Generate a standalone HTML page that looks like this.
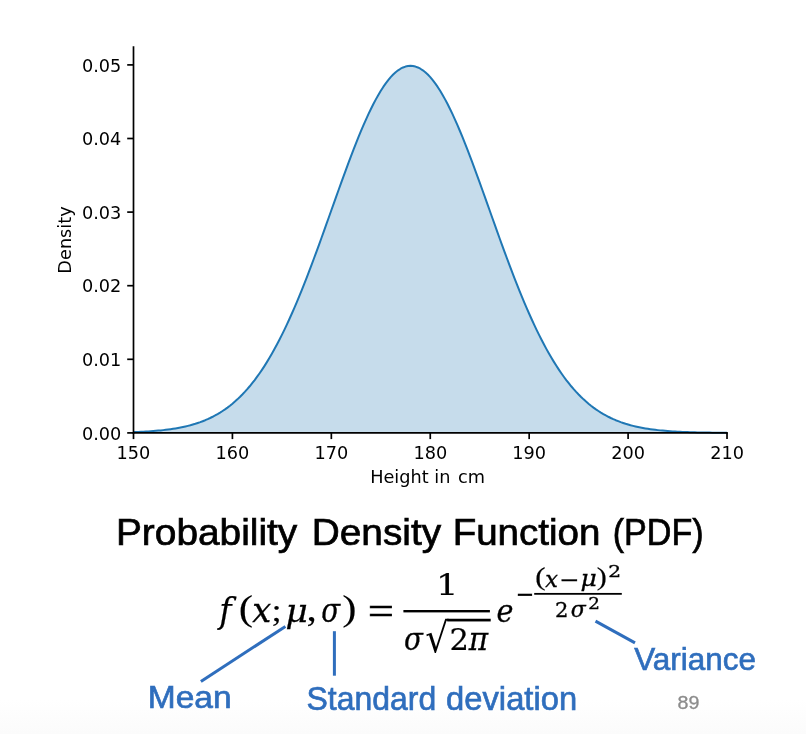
<!DOCTYPE html>
<html><head><meta charset="utf-8"><title>Probability Density Function (PDF)</title>
<style>
html,body{margin:0;padding:0;}
body{width:806px;height:734px;overflow:hidden;background:#fff;position:relative;}
#bg{position:absolute;left:0;top:0;width:806px;height:734px;background:linear-gradient(to bottom,#ffffff 0px,#ffffff 700px,#fbfbfb 734px);}
svg{position:absolute;left:0;top:0;}

.tk{font-family:"DejaVu Sans","Liberation Sans",sans-serif;font-size:17.7px;fill:#000;}
.ttl{font-family:"Liberation Sans",sans-serif;fill:#000;stroke:#000;}
.lbl{font-family:"Liberation Sans",sans-serif;fill:#2f6ebd;stroke:#2f6ebd;}
.pg{font-family:"Liberation Sans",sans-serif;fill:#8c8c8c;stroke:#8c8c8c;}
.m{font-family:"Liberation Serif","DejaVu Serif",serif;font-style:italic;fill:#000;stroke:#000;}
.r{font-family:"Liberation Serif","DejaVu Serif",serif;font-style:normal;fill:#000;stroke:#000;}
.dm{font-family:"DejaVu Serif","Liberation Serif",serif;font-style:italic;fill:#000;stroke:#000;}
.dr{font-family:"DejaVu Serif","Liberation Serif",serif;font-style:normal;fill:#000;stroke:#000;}

</style></head>
<body>
<div id="bg"></div>
<svg width="806" height="734" viewBox="0 0 806 734">
<path d="M133.50,432.10 L135.97,432.00 L138.45,431.90 L140.92,431.79 L143.39,431.67 L145.87,431.53 L148.34,431.38 L150.81,431.21 L153.28,431.03 L155.76,430.83 L158.23,430.62 L160.70,430.38 L163.18,430.12 L165.65,429.84 L168.12,429.53 L170.59,429.19 L173.07,428.82 L175.54,428.42 L178.01,427.99 L180.49,427.52 L182.96,427.01 L185.43,426.46 L187.91,425.87 L190.38,425.23 L192.85,424.53 L195.32,423.79 L197.80,422.98 L200.27,422.12 L202.74,421.19 L205.22,420.20 L207.69,419.13 L210.16,417.99 L212.64,416.77 L215.11,415.47 L217.58,414.08 L220.06,412.60 L222.53,411.03 L225.00,409.36 L227.47,407.58 L229.95,405.70 L232.42,403.70 L234.89,401.59 L237.37,399.36 L239.84,397.00 L242.31,394.52 L244.78,391.90 L247.26,389.15 L249.73,386.26 L252.20,383.23 L254.68,380.05 L257.15,376.72 L259.62,373.25 L262.10,369.62 L264.57,365.83 L267.04,361.89 L269.51,357.79 L271.99,353.52 L274.46,349.10 L276.93,344.52 L279.41,339.78 L281.88,334.88 L284.35,329.83 L286.83,324.62 L289.30,319.26 L291.77,313.74 L294.25,308.09 L296.72,302.29 L299.19,296.35 L301.66,290.29 L304.14,284.10 L306.61,277.79 L309.08,271.38 L311.56,264.86 L314.03,258.25 L316.50,251.56 L318.98,244.80 L321.45,237.97 L323.92,231.10 L326.39,224.18 L328.87,217.24 L331.34,210.29 L333.81,203.33 L336.29,196.39 L338.76,189.48 L341.23,182.61 L343.70,175.80 L346.18,169.06 L348.65,162.40 L351.12,155.85 L353.60,149.42 L356.07,143.12 L358.54,136.98 L361.02,130.99 L363.49,125.19 L365.96,119.58 L368.43,114.18 L370.91,109.00 L373.38,104.06 L375.85,99.37 L378.33,94.94 L380.80,90.79 L383.27,86.93 L385.75,83.36 L388.22,80.11 L390.69,77.17 L393.16,74.55 L395.64,72.27 L398.11,70.33 L400.58,68.73 L403.06,67.48 L405.53,66.59 L408.00,66.05 L410.48,65.87 L412.95,66.05 L415.42,66.59 L417.89,67.48 L420.37,68.73 L422.84,70.33 L425.31,72.27 L427.79,74.55 L430.26,77.17 L432.73,80.11 L435.21,83.36 L437.68,86.93 L440.15,90.79 L442.62,94.94 L445.10,99.37 L447.57,104.06 L450.04,109.00 L452.52,114.18 L454.99,119.58 L457.46,125.19 L459.94,130.99 L462.41,136.98 L464.88,143.12 L467.35,149.42 L469.83,155.85 L472.30,162.40 L474.77,169.06 L477.25,175.80 L479.72,182.61 L482.19,189.48 L484.67,196.39 L487.14,203.33 L489.61,210.29 L492.08,217.24 L494.56,224.18 L497.03,231.10 L499.50,237.97 L501.98,244.80 L504.45,251.56 L506.92,258.25 L509.40,264.86 L511.87,271.38 L514.34,277.79 L516.82,284.10 L519.29,290.29 L521.76,296.35 L524.23,302.29 L526.71,308.09 L529.18,313.74 L531.65,319.26 L534.13,324.62 L536.60,329.83 L539.07,334.88 L541.54,339.78 L544.02,344.52 L546.49,349.10 L548.96,353.52 L551.44,357.79 L553.91,361.89 L556.38,365.83 L558.86,369.62 L561.33,373.25 L563.80,376.72 L566.27,380.05 L568.75,383.23 L571.22,386.26 L573.69,389.15 L576.17,391.90 L578.64,394.52 L581.11,397.00 L583.59,399.36 L586.06,401.59 L588.53,403.70 L591.00,405.70 L593.48,407.58 L595.95,409.36 L598.42,411.03 L600.90,412.60 L603.37,414.08 L605.84,415.47 L608.32,416.77 L610.79,417.99 L613.26,419.13 L615.73,420.20 L618.21,421.19 L620.68,422.12 L623.15,422.98 L625.63,423.79 L628.10,424.53 L630.57,425.23 L633.05,425.87 L635.52,426.46 L637.99,427.01 L640.46,427.52 L642.94,427.99 L645.41,428.42 L647.88,428.82 L650.36,429.19 L652.83,429.53 L655.30,429.84 L657.78,430.12 L660.25,430.38 L662.72,430.62 L665.19,430.83 L667.67,431.03 L670.14,431.21 L672.61,431.38 L675.09,431.53 L677.56,431.67 L680.03,431.79 L682.51,431.90 L684.98,432.00 L687.45,432.10 L689.92,432.18 L692.40,432.26 L694.87,432.32 L697.34,432.39 L699.82,432.44 L702.29,432.49 L704.76,432.54 L707.24,432.58 L709.71,432.61 L712.18,432.64 L714.65,432.67 L717.13,432.70 L719.60,432.72 L722.07,432.74 L724.55,432.76 L727.02,432.78 L727.02,432.90 L133.50,432.90 Z" fill="#c6dceb" stroke="none"/>
<path d="M133.50,432.10 L135.97,432.00 L138.45,431.90 L140.92,431.79 L143.39,431.67 L145.87,431.53 L148.34,431.38 L150.81,431.21 L153.28,431.03 L155.76,430.83 L158.23,430.62 L160.70,430.38 L163.18,430.12 L165.65,429.84 L168.12,429.53 L170.59,429.19 L173.07,428.82 L175.54,428.42 L178.01,427.99 L180.49,427.52 L182.96,427.01 L185.43,426.46 L187.91,425.87 L190.38,425.23 L192.85,424.53 L195.32,423.79 L197.80,422.98 L200.27,422.12 L202.74,421.19 L205.22,420.20 L207.69,419.13 L210.16,417.99 L212.64,416.77 L215.11,415.47 L217.58,414.08 L220.06,412.60 L222.53,411.03 L225.00,409.36 L227.47,407.58 L229.95,405.70 L232.42,403.70 L234.89,401.59 L237.37,399.36 L239.84,397.00 L242.31,394.52 L244.78,391.90 L247.26,389.15 L249.73,386.26 L252.20,383.23 L254.68,380.05 L257.15,376.72 L259.62,373.25 L262.10,369.62 L264.57,365.83 L267.04,361.89 L269.51,357.79 L271.99,353.52 L274.46,349.10 L276.93,344.52 L279.41,339.78 L281.88,334.88 L284.35,329.83 L286.83,324.62 L289.30,319.26 L291.77,313.74 L294.25,308.09 L296.72,302.29 L299.19,296.35 L301.66,290.29 L304.14,284.10 L306.61,277.79 L309.08,271.38 L311.56,264.86 L314.03,258.25 L316.50,251.56 L318.98,244.80 L321.45,237.97 L323.92,231.10 L326.39,224.18 L328.87,217.24 L331.34,210.29 L333.81,203.33 L336.29,196.39 L338.76,189.48 L341.23,182.61 L343.70,175.80 L346.18,169.06 L348.65,162.40 L351.12,155.85 L353.60,149.42 L356.07,143.12 L358.54,136.98 L361.02,130.99 L363.49,125.19 L365.96,119.58 L368.43,114.18 L370.91,109.00 L373.38,104.06 L375.85,99.37 L378.33,94.94 L380.80,90.79 L383.27,86.93 L385.75,83.36 L388.22,80.11 L390.69,77.17 L393.16,74.55 L395.64,72.27 L398.11,70.33 L400.58,68.73 L403.06,67.48 L405.53,66.59 L408.00,66.05 L410.48,65.87 L412.95,66.05 L415.42,66.59 L417.89,67.48 L420.37,68.73 L422.84,70.33 L425.31,72.27 L427.79,74.55 L430.26,77.17 L432.73,80.11 L435.21,83.36 L437.68,86.93 L440.15,90.79 L442.62,94.94 L445.10,99.37 L447.57,104.06 L450.04,109.00 L452.52,114.18 L454.99,119.58 L457.46,125.19 L459.94,130.99 L462.41,136.98 L464.88,143.12 L467.35,149.42 L469.83,155.85 L472.30,162.40 L474.77,169.06 L477.25,175.80 L479.72,182.61 L482.19,189.48 L484.67,196.39 L487.14,203.33 L489.61,210.29 L492.08,217.24 L494.56,224.18 L497.03,231.10 L499.50,237.97 L501.98,244.80 L504.45,251.56 L506.92,258.25 L509.40,264.86 L511.87,271.38 L514.34,277.79 L516.82,284.10 L519.29,290.29 L521.76,296.35 L524.23,302.29 L526.71,308.09 L529.18,313.74 L531.65,319.26 L534.13,324.62 L536.60,329.83 L539.07,334.88 L541.54,339.78 L544.02,344.52 L546.49,349.10 L548.96,353.52 L551.44,357.79 L553.91,361.89 L556.38,365.83 L558.86,369.62 L561.33,373.25 L563.80,376.72 L566.27,380.05 L568.75,383.23 L571.22,386.26 L573.69,389.15 L576.17,391.90 L578.64,394.52 L581.11,397.00 L583.59,399.36 L586.06,401.59 L588.53,403.70 L591.00,405.70 L593.48,407.58 L595.95,409.36 L598.42,411.03 L600.90,412.60 L603.37,414.08 L605.84,415.47 L608.32,416.77 L610.79,417.99 L613.26,419.13 L615.73,420.20 L618.21,421.19 L620.68,422.12 L623.15,422.98 L625.63,423.79 L628.10,424.53 L630.57,425.23 L633.05,425.87 L635.52,426.46 L637.99,427.01 L640.46,427.52 L642.94,427.99 L645.41,428.42 L647.88,428.82 L650.36,429.19 L652.83,429.53 L655.30,429.84 L657.78,430.12 L660.25,430.38 L662.72,430.62 L665.19,430.83 L667.67,431.03 L670.14,431.21 L672.61,431.38 L675.09,431.53 L677.56,431.67 L680.03,431.79 L682.51,431.90 L684.98,432.00 L687.45,432.10 L689.92,432.18 L692.40,432.26 L694.87,432.32 L697.34,432.39 L699.82,432.44 L702.29,432.49 L704.76,432.54 L707.24,432.58 L709.71,432.61 L712.18,432.64 L714.65,432.67 L717.13,432.70 L719.60,432.72 L722.07,432.74 L724.55,432.76 L727.02,432.78" fill="none" stroke="#1f77b4" stroke-width="2" stroke-linejoin="round"/>
<line x1="133.5" y1="46.3" x2="133.5" y2="433.75" stroke="#000" stroke-width="1.7"/>
<line x1="132.65" y1="432.9" x2="727.87" y2="432.9" stroke="#000" stroke-width="1.7"/>
<line x1="127.2" y1="432.90" x2="133.5" y2="432.90" stroke="#000" stroke-width="1.7"/>
<text x="121.3" y="439.50" text-anchor="end" class="tk">0.00</text>
<line x1="127.2" y1="359.30" x2="133.5" y2="359.30" stroke="#000" stroke-width="1.7"/>
<text x="121.3" y="365.90" text-anchor="end" class="tk">0.01</text>
<line x1="127.2" y1="285.70" x2="133.5" y2="285.70" stroke="#000" stroke-width="1.7"/>
<text x="121.3" y="292.30" text-anchor="end" class="tk">0.02</text>
<line x1="127.2" y1="212.10" x2="133.5" y2="212.10" stroke="#000" stroke-width="1.7"/>
<text x="121.3" y="218.70" text-anchor="end" class="tk">0.03</text>
<line x1="127.2" y1="138.50" x2="133.5" y2="138.50" stroke="#000" stroke-width="1.7"/>
<text x="121.3" y="145.10" text-anchor="end" class="tk">0.04</text>
<line x1="127.2" y1="64.90" x2="133.5" y2="64.90" stroke="#000" stroke-width="1.7"/>
<text x="121.3" y="71.50" text-anchor="end" class="tk">0.05</text>
<line x1="133.50" y1="432.9" x2="133.50" y2="439.09999999999997" stroke="#000" stroke-width="1.7"/>
<text x="133.50" y="459" text-anchor="middle" class="tk">150</text>
<line x1="232.42" y1="432.9" x2="232.42" y2="439.09999999999997" stroke="#000" stroke-width="1.7"/>
<text x="232.42" y="459" text-anchor="middle" class="tk">160</text>
<line x1="331.34" y1="432.9" x2="331.34" y2="439.09999999999997" stroke="#000" stroke-width="1.7"/>
<text x="331.34" y="459" text-anchor="middle" class="tk">170</text>
<line x1="430.26" y1="432.9" x2="430.26" y2="439.09999999999997" stroke="#000" stroke-width="1.7"/>
<text x="430.26" y="459" text-anchor="middle" class="tk">180</text>
<line x1="529.18" y1="432.9" x2="529.18" y2="439.09999999999997" stroke="#000" stroke-width="1.7"/>
<text x="529.18" y="459" text-anchor="middle" class="tk">190</text>
<line x1="628.10" y1="432.9" x2="628.10" y2="439.09999999999997" stroke="#000" stroke-width="1.7"/>
<text x="628.10" y="459" text-anchor="middle" class="tk">200</text>
<line x1="727.02" y1="432.9" x2="727.02" y2="439.09999999999997" stroke="#000" stroke-width="1.7"/>
<text x="727.02" y="459" text-anchor="middle" class="tk">210</text>
<text id="xl1" x="370.2" y="482.7" class="tk">Height in</text>
<text id="xl2" x="458.1" y="482.7" class="tk">cm</text>
<text id="yl" transform="translate(71,240) rotate(-90)" text-anchor="middle" class="tk">Density</text>
<text id="t1" transform="translate(115.95,544.5) scale(1.05,1)" class="ttl" font-size="37" stroke-width="0.7">Probability</text>
<text id="t2" transform="translate(311.75,544.5) scale(1.049,1)" class="ttl" font-size="37" stroke-width="0.7">Density</text>
<text id="t3" transform="translate(452.65,544.5) scale(1.042,1)" class="ttl" font-size="37" stroke-width="0.7">Function</text>
<text id="t4" transform="translate(612.65,544.5) scale(0.922,1)" class="ttl" font-size="37" stroke-width="0.7">(PDF)</text>
<text id="f_f" transform="translate(219.2,622.5) scale(0.94,1)" class="dm" font-size="35.33" stroke-width="0.2">f</text>
<text id="f_lp" transform="translate(238.65,620.25) scale(1.2,1)" class="r" font-size="35.75" stroke-width="0.1">(</text>
<text id="f_x" transform="translate(252.2,622.15) scale(1.016,1)" class="dm" font-size="33.14" stroke-width="0.3">x</text>
<text id="f_sc" transform="translate(271.55,621.45) scale(1.161,1)" class="r" font-size="31.53" stroke-width="0.1">;</text>
<text id="f_mu" transform="translate(285.4,622.0) scale(1.093,1)" class="dm" font-size="31.46" stroke-width="0.3">μ</text>
<text id="f_cm" transform="translate(306.6,621.05) scale(1.156,1)" class="r" font-size="35.81" stroke-width="0.1">,</text>
<text id="f_sg" transform="translate(321.3,621.9) scale(0.843,1)" class="dm" font-size="32.74" stroke-width="0.3">σ</text>
<text id="f_rp" transform="translate(342.15,620.25) scale(1.195,1)" class="r" font-size="35.75" stroke-width="0.1">)</text>
<rect id="f_bar" x="403.4" y="610.0" width="86.5" height="2.4" fill="#000"/>
<rect id="d_vinc" x="447.2" y="618.75" width="43.5" height="2.7" fill="#000"/>
<rect id="e_bar" x="534.2" y="592.95" width="87.6" height="1.8" fill="#000"/>
<text id="f_1" transform="translate(435.95,594.6) scale(1.161,1)" class="dr" font-size="30.32" stroke-width="0.2">1</text>
<text id="d_sg" transform="translate(404.0,649.65) scale(0.896,1)" class="dm" font-size="30.9" stroke-width="0.3">σ</text>
<text id="d_2" transform="translate(449.4,649.65) scale(1.004,1)" class="dr" font-size="30.39" stroke-width="0.2">2</text>
<text id="d_pi" transform="translate(468.65,649.9) scale(0.933,1)" class="dm" font-size="31.53" stroke-width="0.3">π</text>
<text id="f_e" transform="translate(496.5,622.15) scale(0.891,1)" class="dm" font-size="32.27" stroke-width="0.3">e</text>
<text id="e_lp" transform="translate(535.25,584.8) scale(1.186,1)" class="r" font-size="25.99" stroke-width="0.2">(</text>
<text id="e_x" transform="translate(545.35,586.6) scale(0.992,1)" class="dm" font-size="22.69" stroke-width="0.35">x</text>
<text id="e_mu" transform="translate(580.5,586.4) scale(1.152,1)" class="dm" font-size="21.76" stroke-width="0.35">μ</text>
<text id="e_rp" transform="translate(596.85,584.8) scale(1.157,1)" class="r" font-size="25.99" stroke-width="0.2">)</text>
<text id="e_sq" transform="translate(608.15,576.7) scale(1.252,1)" class="dr" font-size="16.13" stroke-width="0.3">2</text>
<text id="e_2" transform="translate(555.05,617.1) scale(1.015,1)" class="dr" font-size="20.84" stroke-width="0.3">2</text>
<text id="e_sg" transform="translate(570.85,616.8) scale(0.997,1)" class="dm" font-size="22.07" stroke-width="0.35">σ</text>
<text id="e_sq2" transform="translate(588.3,609.45) scale(1.119,1)" class="dr" font-size="16.41" stroke-width="0.3">2</text>
<text id="f_eq" transform="translate(367.95,624.15) scale(1.225,1)" class="r" font-size="37.17" stroke-width="0.7">=</text>
<text id="e_neg" transform="translate(516.55,606.95) scale(0.809,1)" class="r" font-size="37.04" stroke-width="0.4">−</text>
<text id="e_min" transform="translate(560.1,590.7) scale(1.0,1)" class="r" font-size="32.51" stroke-width="0.4">−</text>
<text id="d_rad" transform="translate(425.35,652.0) scale(0.892,1)" class="dr" font-size="41.14" stroke-width="0.0">√</text>
<g stroke="#2f6ebd" stroke-width="3" fill="none">
<line id="l1" x1="285.4" y1="626.4" x2="200.9" y2="681.5"/>
<line id="l2" x1="334.4" y1="631.2" x2="334.4" y2="675.7"/>
<line id="l3" x1="595.5" y1="621.1" x2="635" y2="642.9"/>
</g>
<text id="a1" transform="translate(147.8,707.7) scale(1.082,1)" class="lbl" font-size="31" stroke-width="0.65">Mean</text>
<text id="a2" transform="translate(306.55,710.3) scale(0.983,1)" class="lbl" font-size="32.5" stroke-width="0.65">Standard</text>
<text id="a2b" transform="translate(446.1,710.3) scale(1.007,1)" class="lbl" font-size="32.5" stroke-width="0.65">deviation</text>
<text id="a3" transform="translate(634.25,669.6) scale(1.014,1)" class="lbl" font-size="31" stroke-width="0.65">Variance</text>
<text id="pn" transform="translate(677.45,708.7) scale(1.118,1)" class="pg" font-size="17.6" stroke-width="0.3">89</text>
</svg>
</body></html>
